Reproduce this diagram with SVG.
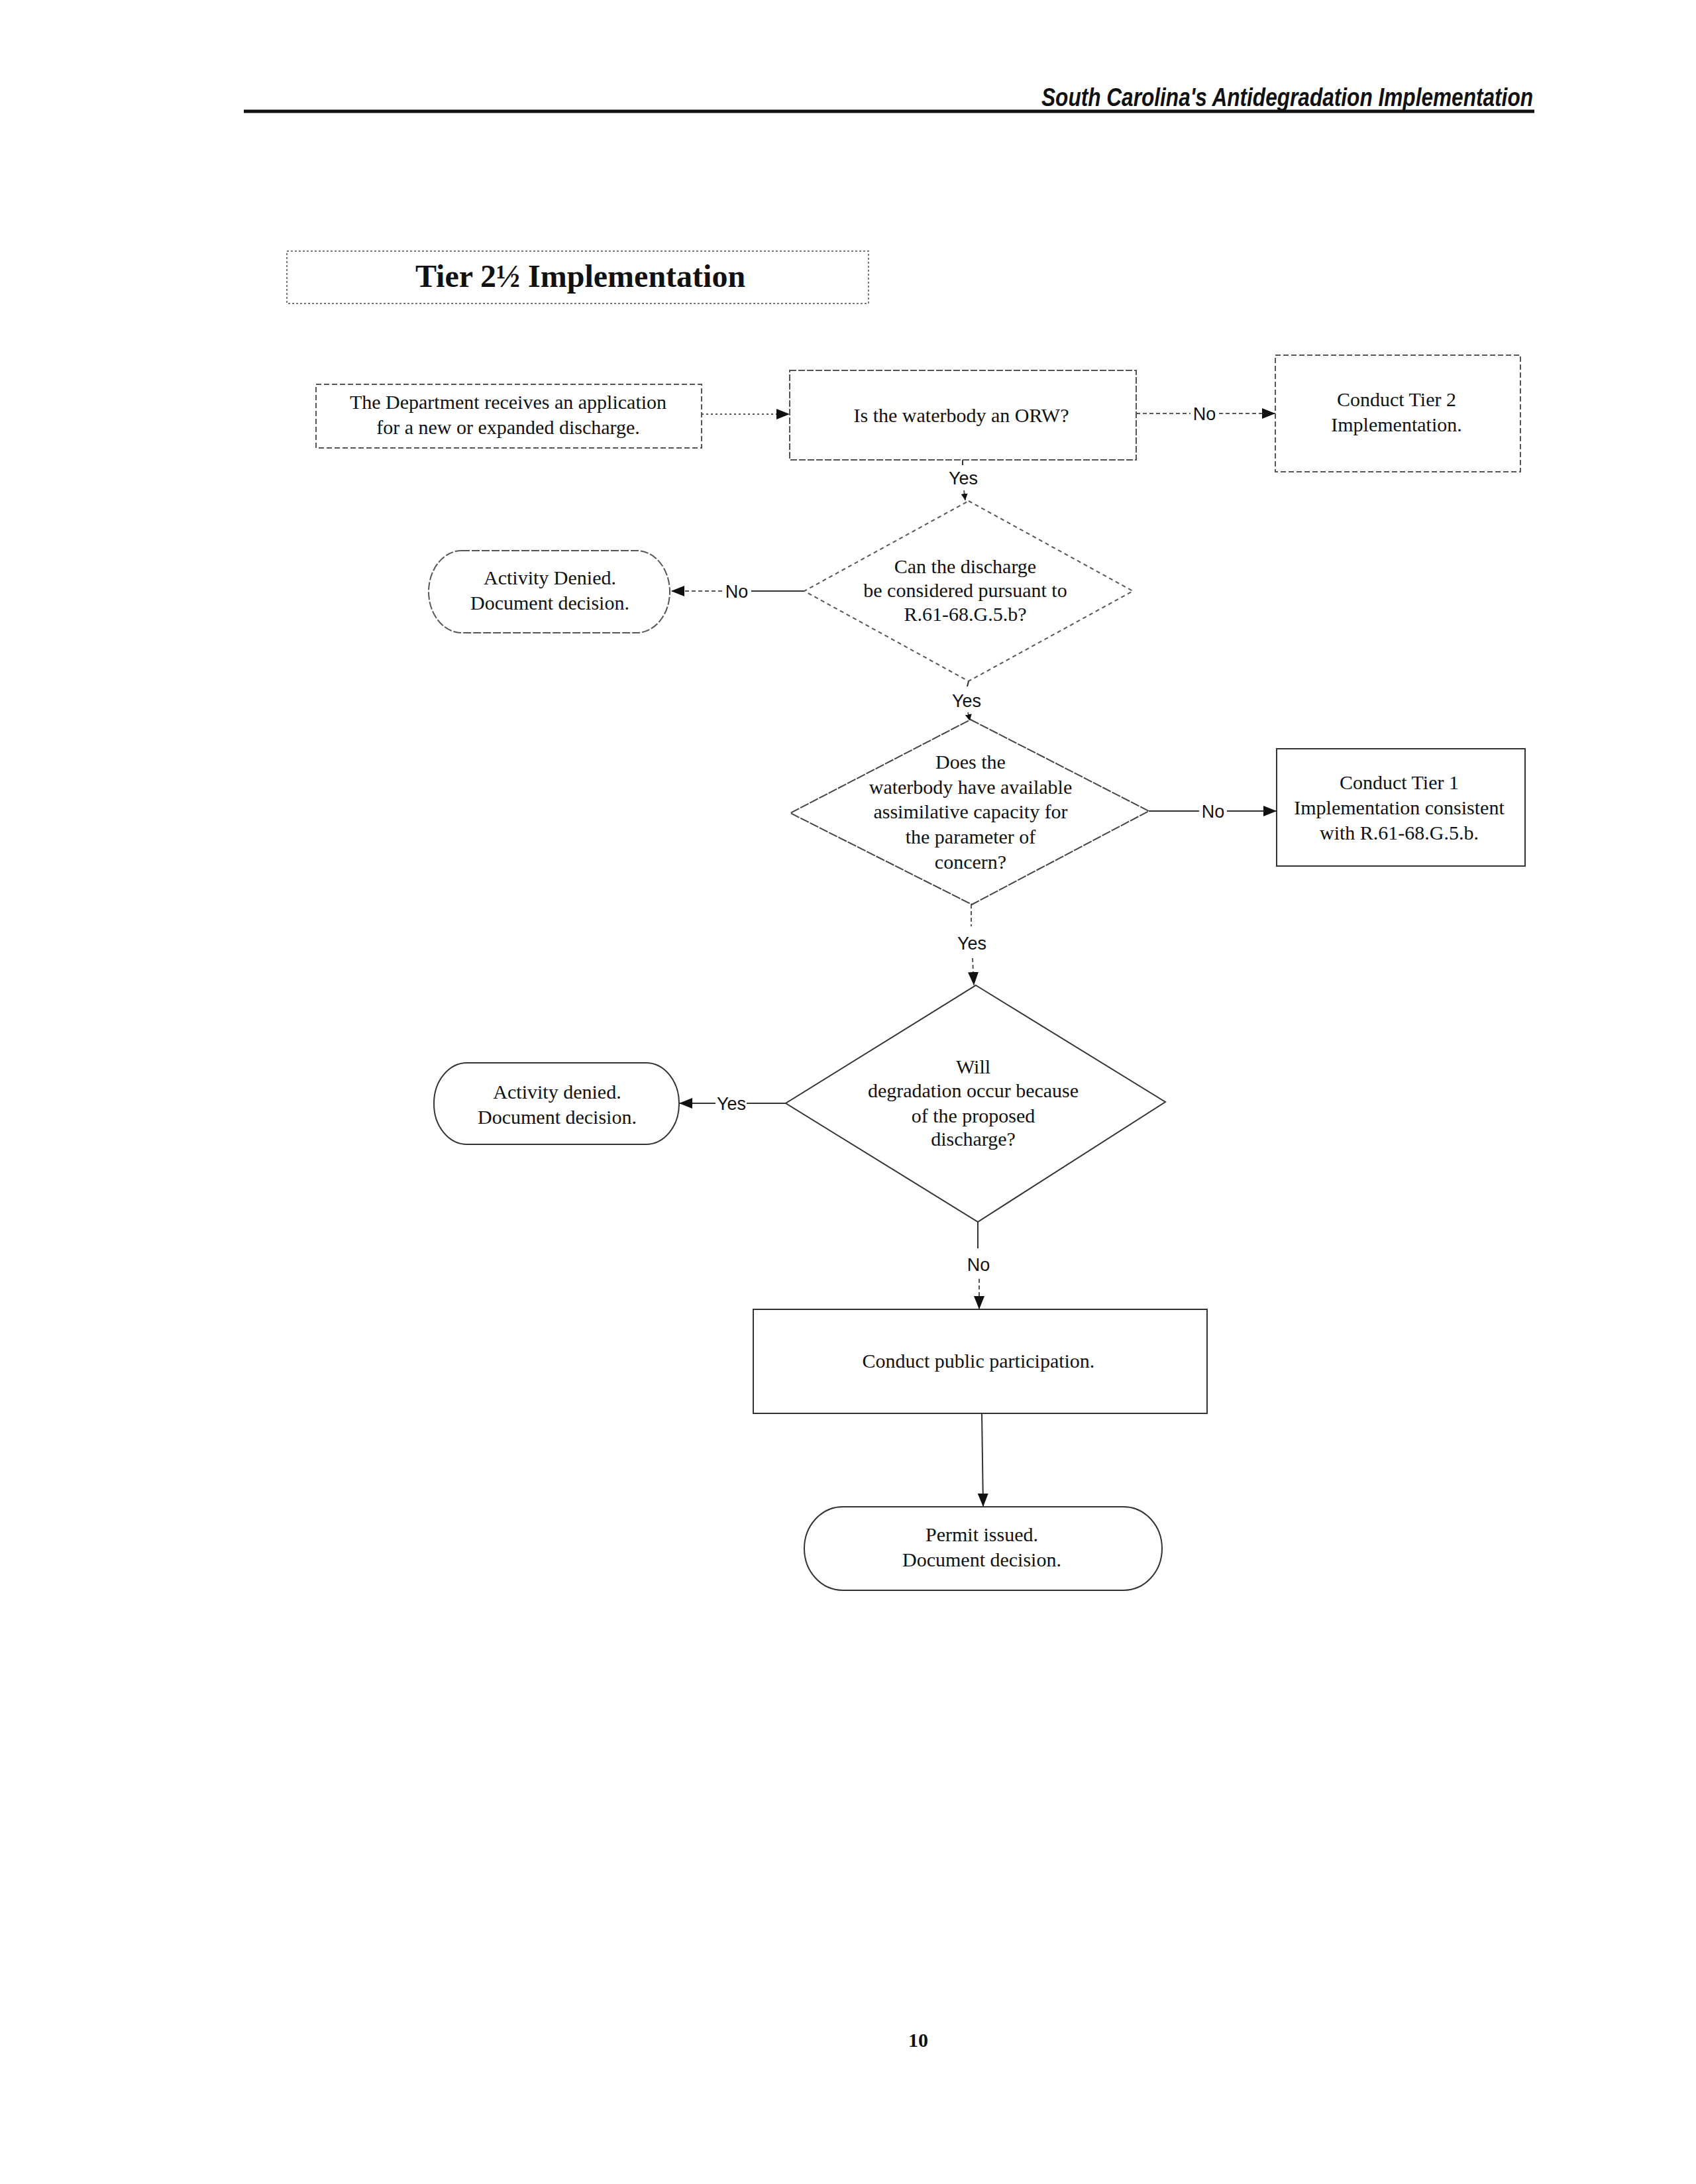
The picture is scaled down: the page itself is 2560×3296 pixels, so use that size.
<svg xmlns="http://www.w3.org/2000/svg" width="2560" height="3296" viewBox="0 0 2560 3296">
<style>
.t{font-family:"Liberation Serif","Times New Roman",serif;font-size:30px;fill:#111;text-anchor:middle}
.lbl{font-family:"Liberation Sans",Arial,sans-serif;font-size:27px;fill:#111;text-anchor:middle}
.dsh{fill:#fff;stroke:#555;stroke-width:2;stroke-dasharray:8 4}
.sol{fill:#fff;stroke:#333;stroke-width:2}
.cd{fill:none;stroke:#555;stroke-width:2;stroke-dasharray:6 4}
.cs{fill:none;stroke:#333;stroke-width:2}
</style>
<defs>
<marker id="ah" markerWidth="20" markerHeight="16" refX="20" refY="8" orient="auto" markerUnits="userSpaceOnUse"><path d="M0,0 L20,8 L0,16 Z" fill="#111"/></marker>
<marker id="ahs" markerWidth="10" markerHeight="10" refX="10" refY="5" orient="auto" markerUnits="userSpaceOnUse"><path d="M0,0 L10,5 L0,10 Z" fill="#111"/></marker>
</defs>
<rect width="2560" height="3296" fill="#fff"/>
<g id="header">
<text x="2314" y="160" text-anchor="end" textLength="742" lengthAdjust="spacingAndGlyphs" style="font-family:'Liberation Sans',Arial,sans-serif;font-size:38px;font-weight:bold;font-style:italic;fill:#111">South Carolina's Antidegradation Implementation</text>
<line x1="368" y1="168" x2="2316" y2="168" stroke="#111" stroke-width="5"/>
</g>
<g id="title">
<rect x="433" y="379" width="878" height="79" class="dsh" style="stroke-dasharray:3 3;stroke:#777"/>
<text x="876" y="433" text-anchor="middle" style="font-family:'Liberation Serif','Times New Roman',serif;font-size:48px;font-weight:bold;fill:#111">Tier 2½ Implementation</text>
</g>
<g id="connectors">
<line x1="1059" y1="625" x2="1192" y2="625" class="cd" style="stroke-dasharray:3 4" marker-end="url(#ah)"/>
<line x1="1715" y1="624" x2="1797" y2="624" class="cd"/>
<text x="1818" y="634" class="lbl">No</text>
<line x1="1840" y1="624" x2="1925" y2="624" class="cd" marker-end="url(#ah)"/>
<line x1="1453" y1="694" x2="1453" y2="702" class="cs"/>
<text x="1454" y="731" class="lbl">Yes</text>
<line x1="1455" y1="740" x2="1457" y2="755" class="cd" marker-end="url(#ahs)"/>
<line x1="1214" y1="892" x2="1134" y2="892" class="cs"/>
<text x="1112" y="902" class="lbl">No</text>
<line x1="1090" y1="892" x2="1013" y2="892" class="cd" marker-end="url(#ah)"/>
<line x1="1462" y1="1028" x2="1460" y2="1036" class="cs"/>
<text x="1459" y="1067" class="lbl">Yes</text>
<line x1="1461" y1="1075" x2="1464" y2="1088" class="cd" marker-end="url(#ahs)"/>
<line x1="1734" y1="1224" x2="1810" y2="1224" class="cs"/>
<text x="1831" y="1234" class="lbl">No</text>
<line x1="1852" y1="1224" x2="1927" y2="1224" class="cs" marker-end="url(#ah)"/>
<line x1="1466" y1="1365" x2="1466" y2="1398" class="cd"/>
<text x="1467" y="1433" class="lbl">Yes</text>
<line x1="1468" y1="1446" x2="1470" y2="1487" class="cd" marker-end="url(#ah)"/>
<line x1="1186" y1="1665" x2="1127" y2="1665" class="cs"/>
<text x="1104" y="1675" class="lbl">Yes</text>
<line x1="1080" y1="1665" x2="1025" y2="1665" class="cs" marker-end="url(#ah)"/>
<line x1="1476" y1="1844" x2="1476" y2="1884" class="cs"/>
<text x="1477" y="1918" class="lbl">No</text>
<line x1="1478" y1="1930" x2="1478" y2="1976" class="cd" marker-end="url(#ah)"/>
<line x1="1482" y1="2133" x2="1484" y2="2274" class="cs" marker-end="url(#ah)"/>
</g>
<g id="start">
<rect x="477" y="580" width="582" height="96" class="dsh"/>
<text class="t" x="767" y="617">The Department receives an application</text>
<text class="t" x="767" y="655">for a new or expanded discharge.</text>
</g>
<g id="orw">
<rect x="1192" y="559" width="523" height="135" class="dsh" style="stroke-dasharray:10 3"/>
<text class="t" x="1451" y="637">Is the waterbody an ORW?</text>
</g>
<g id="tier2">
<rect x="1925" y="536" width="370" height="176" class="dsh"/>
<text class="t" x="2108" y="613">Conduct Tier 2</text>
<text class="t" x="2108" y="651">Implementation.</text>
</g>
<g id="decision1">
<polygon points="1462,756 1710,892 1462,1028 1214,892" class="dsh" style="stroke-dasharray:6 5"/>
<text class="t" x="1457" y="865">Can the discharge</text>
<text class="t" x="1457" y="901">be considered pursuant to</text>
<text class="t" x="1457" y="937">R.61-68.G.5.b?</text>
</g>
<g id="denied1">
<rect x="647" y="831" width="364" height="124" rx="50" ry="62" class="dsh" style="stroke-dasharray:12 3"/>
<text class="t" x="830" y="882">Activity Denied.</text>
<text class="t" x="830" y="920">Document decision.</text>
</g>
<g id="decision2">
<polygon points="1465,1086 1734,1224 1467,1365 1193,1227" class="sol" style="stroke:#444;stroke-dasharray:14 2"/>
<text class="t" x="1465" y="1160">Does the</text>
<text class="t" x="1465" y="1198">waterbody have available</text>
<text class="t" x="1465" y="1235">assimilative capacity for</text>
<text class="t" x="1465" y="1273">the parameter of</text>
<text class="t" x="1465" y="1311">concern?</text>
</g>
<g id="tier1">
<rect x="1927" y="1130" width="375" height="177" class="sol"/>
<text class="t" x="2112" y="1191">Conduct Tier 1</text>
<text class="t" x="2112" y="1229">Implementation consistent</text>
<text class="t" x="2112" y="1267">with R.61-68.G.5.b.</text>
</g>
<g id="decision3">
<polygon points="1473,1487 1759,1663 1476,1844 1186,1665" class="sol"/>
<text class="t" x="1469" y="1620">Will</text>
<text class="t" x="1469" y="1656">degradation occur because</text>
<text class="t" x="1469" y="1694">of the proposed</text>
<text class="t" x="1469" y="1729">discharge?</text>
</g>
<g id="denied2">
<rect x="655" y="1604" width="370" height="123" rx="50" ry="61" class="sol"/>
<text class="t" x="841" y="1658">Activity denied.</text>
<text class="t" x="841" y="1696">Document decision.</text>
</g>
<g id="public">
<rect x="1137" y="1976" width="685" height="157" class="sol"/>
<text class="t" x="1477" y="2064">Conduct public participation.</text>
</g>
<g id="permit">
<rect x="1214" y="2274" width="540" height="126" rx="58" ry="63" class="sol"/>
<text class="t" x="1482" y="2326">Permit issued.</text>
<text class="t" x="1482" y="2364">Document decision.</text>
</g>
<g id="page">
<text x="1386" y="3089" text-anchor="middle" style="font-family:'Liberation Serif','Times New Roman',serif;font-size:30px;font-weight:bold;fill:#111">10</text>
</g>
</svg>
